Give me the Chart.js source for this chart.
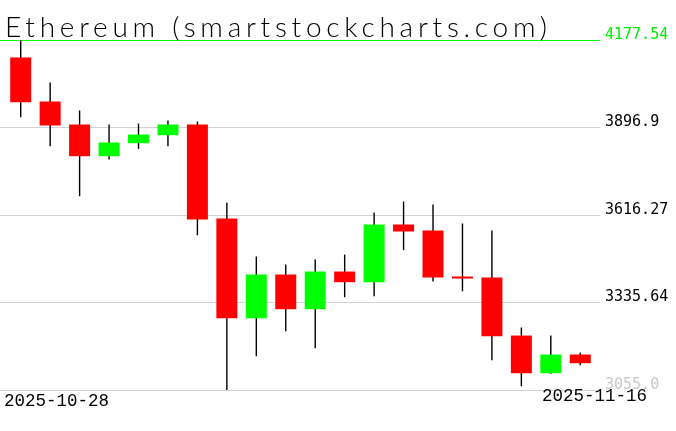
<!DOCTYPE html>
<html>
<head>
<meta charset="utf-8">
<script src="https://cdn.jsdelivr.net/npm/chart.js@4/dist/chart.umd.min.js"></script>
<style>
  body { margin: 0; background: #fff; }
  canvas { display: block; }
</style>
</head>
<body>
<canvas id="myChart" width="676" height="431"></canvas>
<script>
// daily candles, 2025-10-28 .. 2025-11-16
let dates = ['2025-10-28', '2025-10-29', '2025-10-30', '2025-10-31', '2025-11-01',
  '2025-11-02', '2025-11-03', '2025-11-04', '2025-11-05', '2025-11-06',
  '2025-11-07', '2025-11-08', '2025-11-09', '2025-11-10', '2025-11-11',
  '2025-11-12', '2025-11-13', '2025-11-14', '2025-11-15', '2025-11-16'];
let opens = [4121.4, 3980.3, 3906.5, 3804.8, 3846.5, 3872.2, 3906.5, 3605.0, 3285.2, 3425.4,
  3314.1, 3435.0, 3400.7, 3585.8, 3566.5, 3419.0, 3415.8, 3229.7, 3108.8, 3168.8];
let highs = [4177.54, 4041.2, 3951.4, 3906.5, 3909.7, 3919.3, 3916.1, 3656.3, 3483.1, 3457.5,
  3473.5, 3489.5, 3624.2, 3659.5, 3649.9, 3589.0, 3566.5, 3255.4, 3229.7, 3175.2];
let lows = [3929.9, 3836.9, 3676.5, 3794.2, 3828.5, 3836.9, 3551.4, 3055.0, 3163.3, 3243.5,
  3189.0, 3352.6, 3355.8, 3503.3, 3402.9, 3371.8, 3150.5, 3067.1, 3107.0, 3134.5];
let closes = [3978.0, 3903.3, 3804.8, 3848.8, 3874.4, 3906.5, 3601.8, 3285.2, 3425.4, 3314.1,
  3435.0, 3400.7, 3585.8, 3563.3, 3415.8, 3412.6, 3227.5, 3108.8, 3168.8, 3140.9];
let yTicks = [3055.0, 3335.64, 3616.27, 3896.9, 4177.54];
let yTickLabels = ['3055.0', '3335.64', '3616.27', '3896.9', '4177.54'];
let title = 'Ethereum (smartstockcharts.com)';

let bodies = [];
let wicks = [];
let bodyColors = [];
opens.forEach(function (o, i) {
  bodies.push({ x: i, y: [o, closes[i]] });
  wicks.push({ x: i, y: [lows[i], highs[i]] });
  bodyColors.push(closes[i] >= o ? '#00ff00' : '#ff0000');
});

// title and the two date labels
let textPlugin = {
  id: 'texts',
  afterDraw(chart) {
    let ctx = chart.ctx;
    let area = chart.chartArea;
    ctx.save();
    ctx.fillStyle = '#000';
    ctx.textBaseline = 'alphabetic';
    ctx.textAlign = 'left';
    ctx.font = '300 28px Lato';
    // spread the thin font out to the wide, monospaced look of the original
    let w = ctx.measureText(title).width;
    ctx.letterSpacing = ((542 - w) / (title.length - 1)).toFixed(2) + 'px';
    ctx.fillText(title, 5, 37);
    ctx.letterSpacing = '0px';
    ctx.font = '17.5px "Liberation Mono"';
    ctx.fillText(dates[0], area.left + 4, 406);
    ctx.textAlign = 'right';
    ctx.fillText(dates[dates.length - 1], 647, 401);
    ctx.restore();
  }
};

let myChart = document.getElementById('myChart').getContext('2d');
let chart = new Chart(myChart, {
  type: 'bar',
  data: {
    datasets: [
      {
        label: 'body',
        data: bodies,
        backgroundColor: bodyColors,
        barThickness: 21,
        grouped: false,
        inflateAmount: 0,
      },
      {
        label: 'wick',
        data: wicks,
        backgroundColor: '#000',
        barThickness: 1.4,
        grouped: false,
        inflateAmount: 0,
      },
    ],
  },
  options: {
    responsive: false,
    animation: false,
    devicePixelRatio: 1,
    layout: { padding: { top: 40, bottom: 41, left: 0, right: 0 } },
    plugins: { legend: { display: false }, tooltip: { enabled: false }, title: { display: false } },
    scales: {
      x: {
        type: 'linear',
        display: false,
        offset: false,
        min: -0.703,
        max: 19.67,
      },
      y: {
        position: 'right',
        min: yTicks[0],
        max: yTicks[yTicks.length - 1],
        z: 1,
        afterBuildTicks(scale) {
          scale.ticks = yTicks.map((v) => ({ value: v }));
        },
        afterFit(scale) {
          scale.width = 76;
        },
        border: { display: false },
        grid: {
          drawTicks: false,
          lineWidth: 1,
          color: (c) => (c.index === yTicks.length - 1 ? '#00ff00' : '#d3d3d3'),
        },
        ticks: {
          padding: 5,
          labelOffset: -5,
          font: { family: '"DejaVu Sans Mono"', size: 15 },
          color: (c) => (c.index === yTicks.length - 1 ? '#00ee00' : c.index === 0 ? '#c8c8c8' : '#000'),
          callback: (v, i) => yTickLabels[i],
        },
      },
    },
  },
  plugins: [textPlugin],
});
</script>
</body>
</html>
